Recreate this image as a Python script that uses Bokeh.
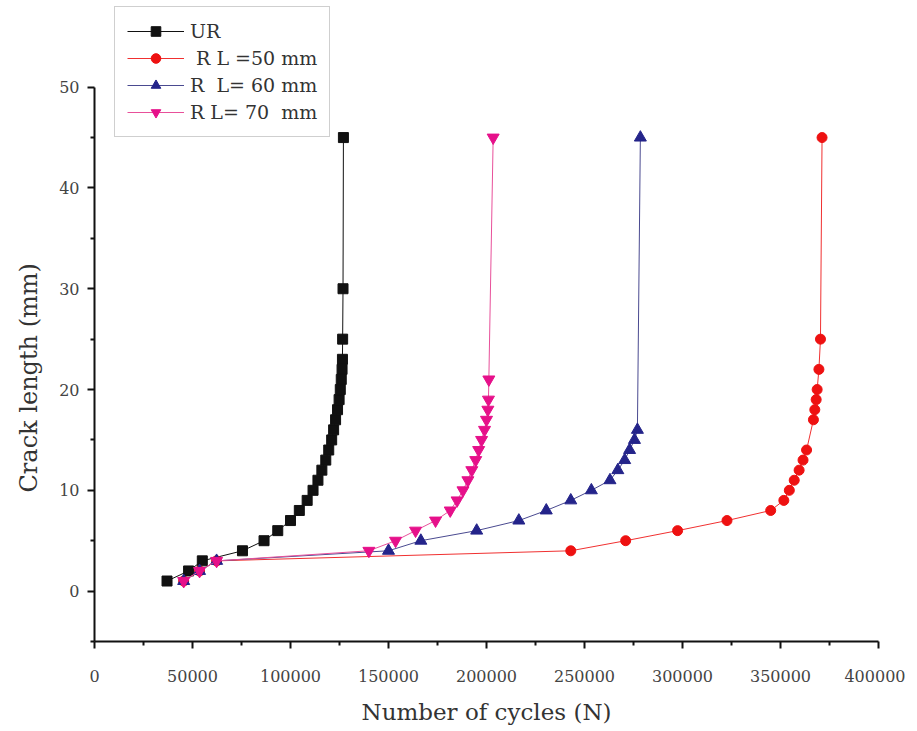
from bokeh.plotting import figure
from bokeh.models import FixedTicker, BasicTickFormatter, Legend, Range1d, Title
from bokeh.embed import file_html
from bokeh.resources import INLINE

# ---- data ----
ur_x = [37000, 48000, 55000, 75500, 86500, 93500, 100000, 104500, 108500, 111500,
        114000, 116000, 118000, 119500, 121000, 122000, 123000, 124000, 124800,
        125400, 125900, 126300, 126500, 126600, 126800, 127000]
ur_y = [1, 2, 3, 4, 5, 6, 7, 8, 9, 10, 11, 12, 13, 14, 15, 16, 17, 18, 19, 20,
        21, 22, 23, 25, 30, 45]

rl50_x = [45500, 53600, 62300, 243000, 271000, 297500, 322700, 345000, 351700,
          354500, 357000, 359500, 361500, 363300, 366800, 367500, 368200, 368700,
          369600, 370400, 371200]
rl50_y = [1, 2, 3, 4, 5, 6, 7, 8, 9, 10, 11, 12, 13, 14, 17, 18, 19, 20, 22, 25, 45]

rl60_x = [45500, 53600, 62300, 150000, 166500, 195000, 216500, 230500, 243000,
          253500, 263000, 267000, 270500, 273000, 275500, 277000, 278500]
rl60_y = [1, 2, 3, 4, 5, 6, 7, 8, 9, 10, 11, 12, 13, 14, 15, 16, 45]

rl70_x = [45500, 53600, 62300, 140000, 153600, 163800, 174000, 181500, 185000,
          188000, 190500, 192500, 194500, 196000, 197500, 199000, 200000, 200700,
          201000, 201200, 203400]
rl70_y = [1, 2, 3, 4, 5, 6, 7, 8, 9, 10, 11, 12, 13, 14, 15, 16, 17, 18, 19, 21, 45]

labels = ["UR", " R L =50 mm", "R  L= 60 mm", "R L= 70  mm"]
x_ticks = [0, 50000, 100000, 150000, 200000, 250000, 300000, 350000, 400000]
x_minor = [25000, 75000, 125000, 175000, 225000, 275000, 325000, 375000]
y_ticks = [0, 10, 20, 30, 40, 50]
y_minor = [-5, 5, 15, 25, 35, 45]

FONT = "DejaVu Serif"

# frame extends above the y axis top (50) so the legend fits inside it
p = figure(width=905, height=730,
           x_range=Range1d(0, 400000), y_range=Range1d(-5, 58.6),
           output_backend="svg", toolbar_location=None,
           min_border_left=94, min_border_right=27,
           min_border_top=0, min_border_bottom=89)
p.outline_line_color = None
p.xgrid.visible = False
p.ygrid.visible = False
p.background_fill_color = "white"

series = [
    (ur_x, ur_y, "#111111", "#111111", "square", 10),
    (rl50_x, rl50_y, "#f03030", "#ee1111", "circle", 10),
    (rl60_x, rl60_y, "#4a4a90", "#24248a", "triangle", 12),
    (rl70_x, rl70_y, "#e8509a", "#e6108a", "inverted_triangle", 12),
]
items = []
for (xs, ys, lc, mc, marker, sz), lab in zip(series, labels):
    r1 = p.line(xs, ys, line_color=lc, line_width=1)
    r2 = p.scatter(xs, ys, marker=marker, size=sz, fill_color=mc, line_color=mc)
    items.append((lab, [r1, r2]))

legend = Legend(items=items, location=(20, 504))
legend.label_text_font = FONT
legend.label_text_font_size = "19px"
legend.label_text_color = "#333333"
legend.border_line_color = "#a0a0a0"
legend.border_line_width = 1
legend.padding = 12
legend.margin = 0
legend.spacing = 3
legend.glyph_width = 57
legend.glyph_height = 24
legend.label_height = 24
legend.label_standoff = 6
legend.background_fill_color = "white"
p.add_layout(legend, "center")

for ax in (p.xaxis[0], p.yaxis[0]):
    ax.axis_line_width = 2
    ax.axis_line_color = "#111111"
    ax.major_tick_line_width = 2
    ax.major_tick_line_color = "#111111"
    ax.minor_tick_line_width = 2
    ax.minor_tick_line_color = "#111111"
    ax.major_tick_out = 7
    ax.major_tick_in = 0
    ax.minor_tick_out = 4
    ax.minor_tick_in = 0
    ax.major_label_text_font = FONT
    ax.major_label_text_font_size = "16px"
    ax.major_label_text_color = "#444444"
    ax.axis_label_text_font = FONT
    ax.axis_label_text_font_style = "normal"
    ax.axis_label_text_font_size = "23px"
    ax.axis_label_text_color = "#333333"

p.xaxis[0].ticker = FixedTicker(ticks=x_ticks, minor_ticks=x_minor)
p.xaxis[0].formatter = BasicTickFormatter(use_scientific=False)
p.xaxis[0].axis_label = "Number of cycles (N)"
p.xaxis[0].major_label_standoff = 21
p.xaxis[0].axis_label_standoff = 14

p.yaxis[0].ticker = FixedTicker(ticks=y_ticks, minor_ticks=y_minor)
p.yaxis[0].bounds = (-5, 50)
p.yaxis[0].major_label_standoff = 8

# y-axis title placed as a side title so it sits along the bounded axis
ytitle = Title(text="Crack length (mm)", align="left", offset=149,
               text_font=FONT, text_font_size="24px", text_font_style="normal",
               text_color="#333333", standoff=24, vertical_align="top")
p.add_layout(ytitle, "left")

open("out.html", "w").write(file_html(p, INLINE))
